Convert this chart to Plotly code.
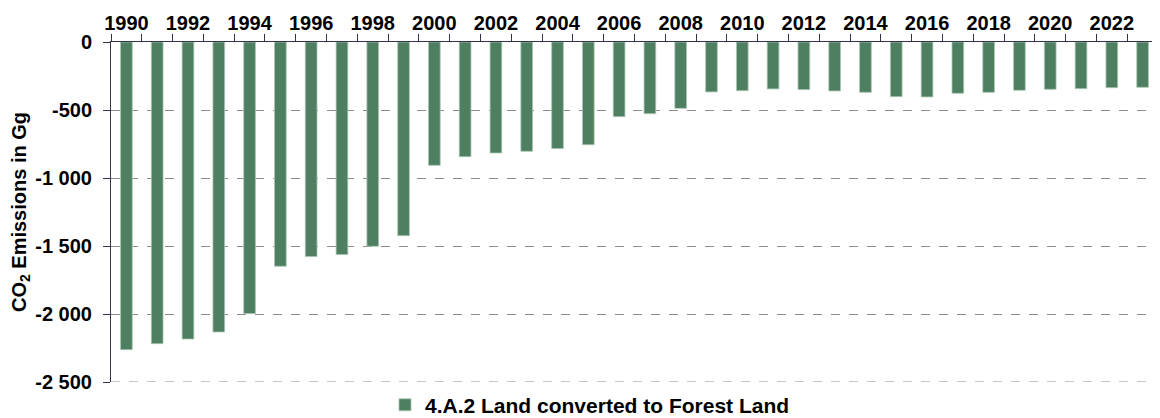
import plotly.graph_objects as go

years = list(range(1990, 2024))
values = [-2262, -2218, -2184, -2132, -1997, -1649, -1578, -1563, -1502, -1424,
          -907, -843, -816, -804, -784, -755, -549, -527, -488, -367,
          -358, -345, -350, -360, -370, -402, -404, -377, -370, -355,
          -348, -343, -336, -333]
series_name = "4.A.2 Land converted to Forest Land"
y_tick_vals = [0, -500, -1000, -1500, -2000, -2500]
y_tick_text = ["0", "-500", "-1 000", "-1 500", "-2 000", "-2 500"]

font_family = "Liberation Sans, Arial, sans-serif"
axis_color = "#33334d"
grid_color = "#8c8c8c"
fs = 20

cats = [str(y) for y in years]
tick_text = [f"<b>{y}</b>" if y % 2 == 0 else "" for y in years]

fig = go.Figure()
fig.add_trace(go.Bar(
    x=cats, y=values, name=f"<b>{series_name}</b>",
    marker=dict(color="#4f7f61", line=dict(color="#a8c6b2", width=0.8)),
    width=0.38,
))

fig.update_layout(
    width=1152, height=410,
    margin=dict(l=103, r=2, t=34, b=36, autoexpand=False),
    plot_bgcolor="white", paper_bgcolor="white",
    font=dict(family=font_family, size=fs, color="black"),
    showlegend=True,
    legend=dict(orientation="h", x=0.2617, xanchor="left", y=-0.068, yanchor="middle",
                font=dict(family=font_family, size=21, color="black"),
                itemwidth=30, tracegroupgap=0),
    xaxis=dict(
        type="category", side="top", automargin=False,
        tickmode="array", tickvals=cats, ticktext=tick_text, tickangle=0,
        tickson="boundaries", ticks="outside", ticklen=7, tickcolor=axis_color,
        ticklabelstandoff=3, showgrid=False, zeroline=False,
        showline=True, linecolor=axis_color, linewidth=1,
        tickfont=dict(size=fs),
    ),
    yaxis=dict(
        range=[-2500, 0], automargin=True, tickmode="array", tickvals=y_tick_vals,
        ticktext=[f"<b>{t}</b>" for t in y_tick_text],
        ticks="outside", ticklen=7, tickcolor=axis_color, ticklabelstandoff=7,
        showline=True, linecolor=axis_color, linewidth=1,
        showgrid=True, gridcolor=grid_color, griddash="dash", gridwidth=1,
        zeroline=False, tickfont=dict(size=fs),
        title=dict(text="<b>CO<sub>2</sub> Emissions in Gg</b>", font=dict(size=fs), standoff=10),
    ),
    shapes=[dict(type="line", xref="paper", x0=0, x1=1, yref="y", y0=-2500, y1=-2500,
                 line=dict(color=grid_color, width=1, dash="dash"), layer="below")],
)

fig.write_html("out.html")
